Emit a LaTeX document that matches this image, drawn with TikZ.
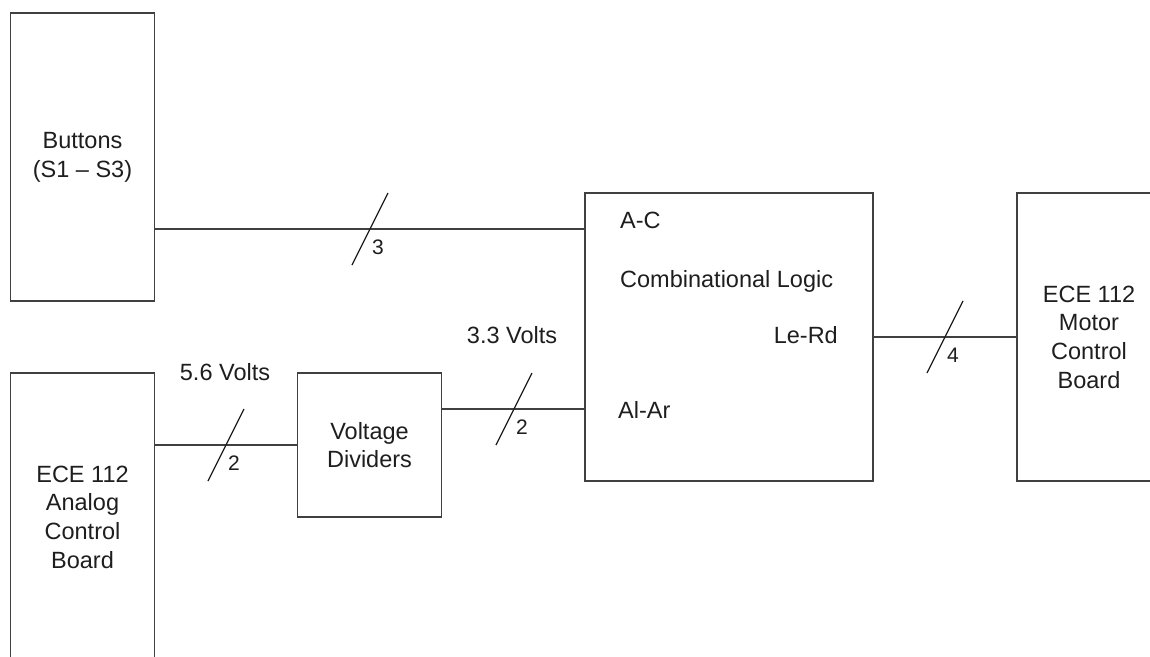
\documentclass[tikz,border=0pt]{standalone}
\usepackage{fontspec}
\setmainfont{Liberation Sans}
\usetikzlibrary{calc}
\definecolor{ln}{RGB}{64,64,64}
\definecolor{tx}{RGB}{30,30,30}
\begin{document}
\begin{tikzpicture}[x=1pt,y=-1pt,
  blk/.style={draw=ln,line width=1.7pt,minimum width=144pt,minimum height=288pt,inner sep=0pt,align=center,text=tx,font=\fontsize{23.5}{28.7}\selectfont},
  lbl/.style={inner sep=0pt,text=tx,font=\fontsize{23.5}{28.7}\selectfont},
  num/.style={inner sep=0pt,text=tx,font=\fontsize{21}{25}\selectfont,anchor=base west},
  wire/.style={draw=ln,line width=1.7pt},
  slashline/.style={draw=tx,line width=1.2pt}]
\useasboundingbox (0,0) rectangle (1150,656);
% blocks
\node[blk] (btn) at (82.5,157) {Buttons\\(S1 – S3)};
\node[blk] (ana) at (82.5,517) {ECE 112\\Analog\\Control\\Board};
\node[blk,minimum height=144pt] (vd) at (369.5,445) {Voltage\\Dividers};
\node[blk,minimum width=288pt] (cl) at (729,337) {};
\node[blk] (mcb) at (1089,337) {ECE 112\\Motor\\Control\\Board};
% texts inside logic block
\node[lbl,anchor=base west] (ac) at (620,228) {A-C};
\node[lbl,anchor=base west] (cmb) at (620,287) {Combinational Logic};
\node[lbl,anchor=base east] (lerd) at (838,343) {Le-Rd};
\node[lbl,anchor=base west] (alar) at (618,418) {Al-Ar};
% voltage labels
\node[lbl,anchor=base] (v56) at (225,380) {5.6 Volts};
\node[lbl,anchor=base] (v33) at (512,343) {3.3 Volts};
% wires
\coordinate (yac) at (0,229);
\coordinate (yal) at (0,409);
\draw[wire] (btn.east |- yac) -- (cl.west |- yac);
\draw[wire] (ana.east |- vd.west) -- (vd.west);
\draw[wire] (vd.east |- yal) -- (cl.west |- yal);
\draw[wire] (cl.east) -- (mcb.west);
% bus slashes
\coordinate (s1) at (370,229);
\coordinate (s2) at (226,445);
\coordinate (s3) at (514,409);
\coordinate (s4) at (945,337);
\foreach \s/\n in {s1/3,s2/2,s3/2,s4/4}{
  \draw[slashline] ($(\s)+(-18,36)$) -- ($(\s)+(18,-36)$);
  \node[num] (lab\s) at ($(\s)+(2,25)$) {\n};
}
\end{tikzpicture}
\end{document}
